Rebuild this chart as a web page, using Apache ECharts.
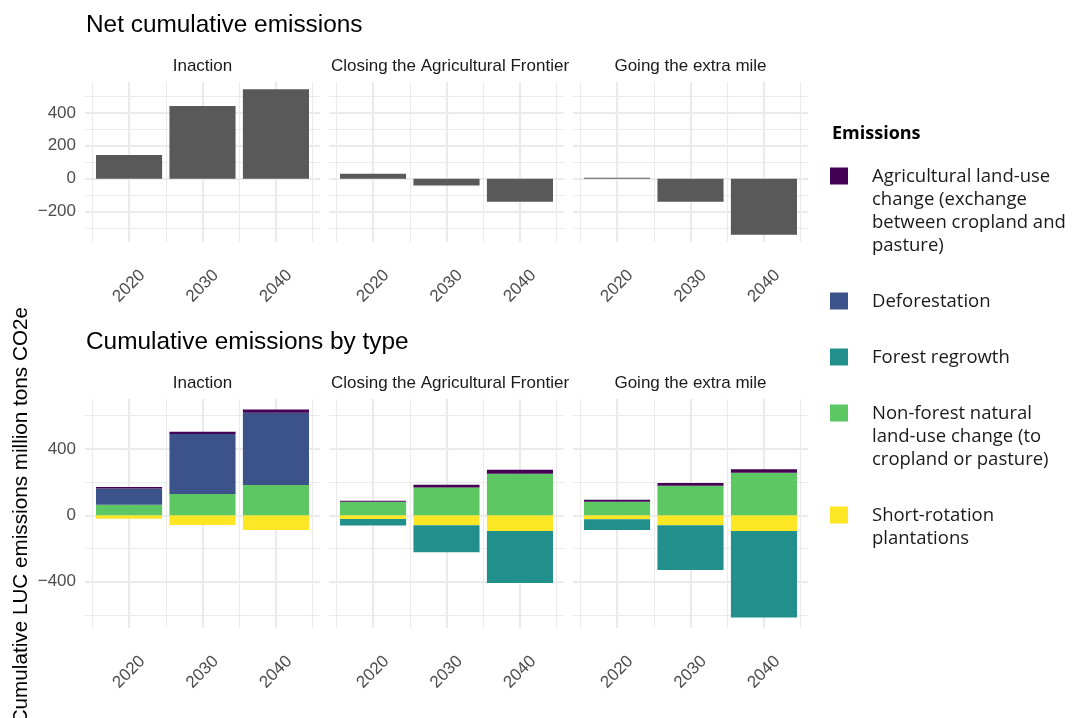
<!DOCTYPE html>
<html><head><meta charset="utf-8">
<script src="https://cdn.jsdelivr.net/npm/echarts@6/dist/echarts.min.js"></script>
<style>html,body{margin:0;padding:0;background:#fff}#c{width:1081px;height:718px}</style>
</head><body><div id="c"></div>
<script>
// ---------- data ----------
const years = ['2020', '2030', '2040'];
const scenarios = ['Inaction', 'Closing the Agricultural Frontier', 'Going the extra mile'];

// Net cumulative emissions (million tons CO2e)
const netInaction = [144, 442, 544];
const netClosing = [30, -41, -141];
const netExtra = [5, -141, -341];

// Emission types (legend order)
const emissionTypes = [
  'Agricultural land-use change (exchange between cropland and pasture)',
  'Deforestation',
  'Forest regrowth',
  'Non-forest natural land-use change (to cropland or pasture)',
  'Short-rotation plantations'
];
const emissionLabels = [
  'Agricultural land-use\nchange (exchange\nbetween cropland and\npasture)',
  'Deforestation',
  'Forest regrowth',
  'Non-forest natural\nland-use change (to\ncropland or pasture)',
  'Short-rotation\nplantations'
];

// Cumulative emissions by type, [2020, 2030, 2040]
const agriInaction = [8, 14, 20];
const deforInaction = [98, 362, 436];
const regrowInaction = [0, 0, 0];
const nonForestInaction = [64, 128, 182];
const shortRotInaction = [-20, -58, -88];

const agriClosing = [6, 16, 24];
const deforClosing = [0, 0, 0];
const regrowClosing = [-40, -162, -314];
const nonForestClosing = [82, 168, 250];
const shortRotClosing = [-22, -60, -94];

const agriExtra = [12, 16, 22];
const deforExtra = [0, 0, 0];
const regrowExtra = [-64, -270, -522];
const nonForestExtra = [82, 178, 256];
const shortRotExtra = [-24, -60, -94];

// tick values
const yMajorNet = [-200, 0, 200, 400];
const yMinorNet = [-300, -100, 100, 300, 500];
const yMajorType = [-400, 0, 400];
const yMinorType = [-600, -200, 200, 600];
const xMajor = [1, 2, 3];
const xMinor = [0.5, 1.5, 2.5, 3.5];

// ---------- styling / layout ----------
const typeColors = ['#440154', '#3B528B', '#21908C', '#5DC863', '#FDE725'];
const netColor = '#595959';
const FONT = 'Liberation Sans, Arial, sans-serif';
const LFONT = 'Open Sans, Noto Sans, sans-serif';
const panelLeft = [85, 329, 573];
const panelW = 235;
const xRange = [0.4, 3.6];
const bandPx = panelW / (xRange[1] - xRange[0]);
const rows = [{ top: 82, height: 160 }, { top: 399, height: 229 }];

const netSets = [netInaction, netClosing, netExtra];
const typeSets = [
  [agriInaction, deforInaction, regrowInaction, nonForestInaction, shortRotInaction],
  [agriClosing, deforClosing, regrowClosing, nonForestClosing, shortRotClosing],
  [agriExtra, deforExtra, regrowExtra, nonForestExtra, shortRotExtra]
];

// ggplot-like 5% expansion of the data range
function expand(lo, hi) { const p = (hi - lo) * 0.05; return [lo - p, hi + p]; }
const netAll = [].concat(...netSets);
const netExt = expand(Math.min(0, ...netAll), Math.max(0, ...netAll));
let posMax = 0, negMin = 0;
typeSets.forEach(set => {
  years.forEach((y, i) => {
    let p = 0, n = 0;
    set.forEach(arr => { if (arr[i] > 0) p += arr[i]; else n += arr[i]; });
    posMax = Math.max(posMax, p); negMin = Math.min(negMin, n);
  });
});
const typeExt = expand(negMin, posMax);

const grids = [], xAxes = [], yAxes = [], series = [];
const minus = v => String(v).replace('-', '\u2212');
const gridLine = w => ({ show: true, lineStyle: { color: '#EBEBEB', width: w } });

function addPanel(row, col, ext, major, minor) {
  // background grid: gridlines + labels
  const gi = grids.length;
  grids.push({ left: panelLeft[col], width: panelW, top: rows[row].top, height: rows[row].height });
  const base = { gridIndex: gi, type: 'value', min: xRange[0], max: xRange[1], axisLine: { show: false } };
  xAxes.push(Object.assign({}, base, {
    axisTick: { show: false, customValues: xMajor },
    axisLabel: {
      customValues: xMajor, formatter: v => years[Math.round(v) - 1],
      rotate: 45, align: 'center', verticalAlign: 'middle', margin: 44,
      fontSize: 17, color: '#4D4D4D', fontFamily: FONT
    },
    splitLine: gridLine(2.2)
  }));
  xAxes.push(Object.assign({}, base, {
    axisTick: { show: false, customValues: xMinor },
    axisLabel: { show: false }, splitLine: gridLine(1.1)
  }));
  const ybase = { gridIndex: gi, type: 'value', min: ext[0], max: ext[1], axisLine: { show: false } };
  yAxes.push(Object.assign({}, ybase, {
    axisTick: { show: false, customValues: major },
    axisLabel: {
      show: col === 0, customValues: major, formatter: minus, margin: 9,
      fontSize: 17, color: '#4D4D4D', fontFamily: FONT
    },
    splitLine: gridLine(2.2)
  }));
  yAxes.push(Object.assign({}, ybase, {
    axisTick: { show: false, customValues: minor },
    axisLabel: { show: false }, splitLine: gridLine(1.1)
  }));
  // bar grid: category axis covering the three bands
  const bi = grids.length;
  grids.push({
    left: panelLeft[col] + (xMajor[0] - 0.5 - xRange[0]) * bandPx, width: years.length * bandPx,
    top: rows[row].top, height: rows[row].height
  });
  xAxes.push({ gridIndex: bi, type: 'category', data: years, show: false });
  yAxes.push({ gridIndex: bi, type: 'value', min: ext[0], max: ext[1], show: false });
  return { xi: xAxes.length - 1, yi: yAxes.length - 1 };
}

// top row: net
netSets.forEach((vals, c) => {
  const a = addPanel(0, c, netExt, yMajorNet, yMinorNet);
  series.push({
    type: 'bar', name: 'Net', xAxisIndex: a.xi, yAxisIndex: a.yi,
    data: vals, barWidth: '90%', itemStyle: { color: netColor }, silent: true, z: 3
  });
});
// bottom row: by type (stack order: nearest zero first)
const stackOrder = [4, 3, 2, 1, 0];
typeSets.forEach((set, c) => {
  const a = addPanel(1, c, typeExt, yMajorType, yMinorType);
  stackOrder.forEach(k => {
    series.push({
      type: 'bar', name: emissionTypes[k], xAxisIndex: a.xi, yAxisIndex: a.yi,
      stack: 'type' + c, stackStrategy: 'samesign', data: set[k], barWidth: '90%',
      itemStyle: { color: typeColors[k] }, silent: true, z: 3
    });
  });
});

// ---------- texts ----------
const graphics = [];
graphics.push({ type: 'text', x: 86, y: 25, style: { text: 'Net cumulative emissions', fontSize: 24.4, fontFamily: FONT, fill: '#000', align: 'left', verticalAlign: 'middle' } });
graphics.push({ type: 'text', x: 86, y: 342, style: { text: 'Cumulative emissions by type', fontSize: 24.4, fontFamily: FONT, fill: '#000', align: 'left', verticalAlign: 'middle' } });
const stripShift = [0, 3.5, 0];
[66, 383].forEach(yc => {
  scenarios.forEach((s, c) => {
    graphics.push({ type: 'text', x: panelLeft[c] + panelW / 2 + stripShift[c], y: yc, style: { text: s, fontSize: 17, fontFamily: FONT, fill: '#1A1A1A', align: 'center', verticalAlign: 'middle' } });
  });
});
graphics.push({ type: 'text', x: 21, y: 307, rotation: Math.PI / 2, style: { text: 'Cumulative LUC emissions million tons CO2e', fontSize: 20.7, fontFamily: FONT, fill: '#000', align: 'right', verticalAlign: 'middle' } });

// legend
graphics.push({ type: 'text', x: 832, y: 134, style: { text: 'Emissions', fontSize: 18, fontWeight: 'bold', fontFamily: LFONT, fill: '#000', align: 'left', verticalAlign: 'middle' } });
let yc = 177;
const LH = 23;
emissionLabels.forEach((lab, k) => {
  const nLines = lab.split('\n').length;
  graphics.push({ type: 'rect', shape: { x: 830, y: yc - 9.5, width: 18, height: 17 }, style: { fill: typeColors[k] } });
  graphics.push({ type: 'text', x: 872, y: yc - LH / 2, style: { text: lab, fontSize: 18.5, lineHeight: LH, fontFamily: LFONT, fill: '#1A1A1A', align: 'left', verticalAlign: 'top' } });
  yc += (nLines - 1) * LH + 56;
});

const chart = echarts.init(document.getElementById('c'), null, { renderer: 'canvas' });
chart.setOption({
  animation: false,
  backgroundColor: '#fff',
  grid: grids, xAxis: xAxes, yAxis: yAxes, series: series,
  graphic: graphics
});
</script></body></html>
